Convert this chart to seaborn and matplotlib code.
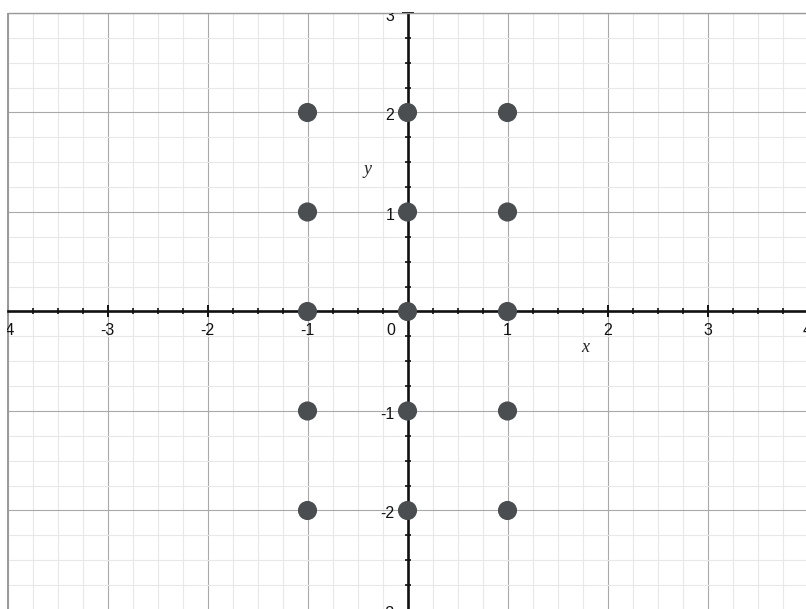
import matplotlib
matplotlib.use("Agg")
import matplotlib.pyplot as plt
import seaborn as sns
import pandas as pd
import numpy as np
from matplotlib.ticker import MultipleLocator

# data
x_vals = [-1, -1, -1, -1, -1, 0, 0, 0, 0, 0, 1, 1, 1, 1, 1]
y_vals = [2, 1, 0, -1, -2, 2, 1, 0, -1, -2, 2, 1, 0, -1, -2]
x_tick_labels = [-4, -3, -2, -1, 1, 2, 3, 4]
y_tick_labels = [-3, -2, -1, 1, 2, 3]

df = pd.DataFrame({"x": x_vals, "y": y_vals})

sns.set_style("white")
plt.rcParams['font.family'] = ['Liberation Sans', 'DejaVu Sans']

fig = plt.figure(figsize=(8.06, 6.09), dpi=100)
ax = fig.add_axes([7.5 / 806, 0, 1 - 7.5 / 806, 1 - 13 / 609])
ax.set_xlim(-4, 3.985)
ax.set_ylim(-2.99, 3)

# grid
ax.xaxis.set_major_locator(MultipleLocator(1))
ax.yaxis.set_major_locator(MultipleLocator(1))
ax.xaxis.set_minor_locator(MultipleLocator(0.25))
ax.yaxis.set_minor_locator(MultipleLocator(0.25))
ax.grid(which='major', color='#a9a9a9', linewidth=0.8)
ax.grid(which='minor', color='#e8e8e8', linewidth=0.8)
ax.set_axisbelow(True)

# axes through origin
ax.spines['left'].set_position(('data', 0))
ax.spines['bottom'].set_position(('data', 0))
for s in ['left', 'bottom']:
    ax.spines[s].set_color('#111111')
    ax.spines[s].set_linewidth(1.9)
    ax.spines[s].set_zorder(2.5)
ax.spines['right'].set_visible(False)
ax.spines['top'].set_color('#999999')
ax.spines['top'].set_linewidth(1.0)
ax.axvline(-4, color='#999999', linewidth=1.4, zorder=1)

ax.tick_params(axis='both', which='both', bottom=True, left=True, top=False, right=False,
               labelbottom=False, labelleft=False)
ax.tick_params(which='major', direction='inout', length=8, width=1.4, color='#111111')
ax.tick_params(which='minor', direction='inout', length=4, width=1.2, color='#111111')

sns.scatterplot(data=df, x='x', y='y', ax=ax, s=190, color='#4a4e51',
                edgecolor='none', zorder=3, legend=False)
ax.set_xlabel('')
ax.set_ylabel('')

# tick labels
for v in x_tick_labels:
    ax.annotate(str(v), xy=(v, 0), xytext=(0, -13.5), textcoords='offset points',
                ha='center', va='center', fontsize=11.5, color='#111111',
                annotation_clip=False, clip_on=True)
ax.annotate('0', xy=(0, 0), xytext=(-12, -13.5), textcoords='offset points',
            ha='center', va='center', fontsize=11.5, color='#111111')
for v in y_tick_labels:
    ax.annotate(str(v), xy=(0, v), xytext=(-9.5, -2.3), textcoords='offset points',
                ha='right', va='center', fontsize=11.5, color='#111111',
                annotation_clip=False, clip_on=True)

# axis names
ax.text(1.78, -0.36, 'x', fontsize=13, style='italic', family='Liberation Serif',
        ha='center', va='center')
ax.text(-0.40, 1.43, 'y', fontsize=13, style='italic', family='Liberation Serif',
        ha='center', va='center')

fig.savefig('out.png', dpi=100)
